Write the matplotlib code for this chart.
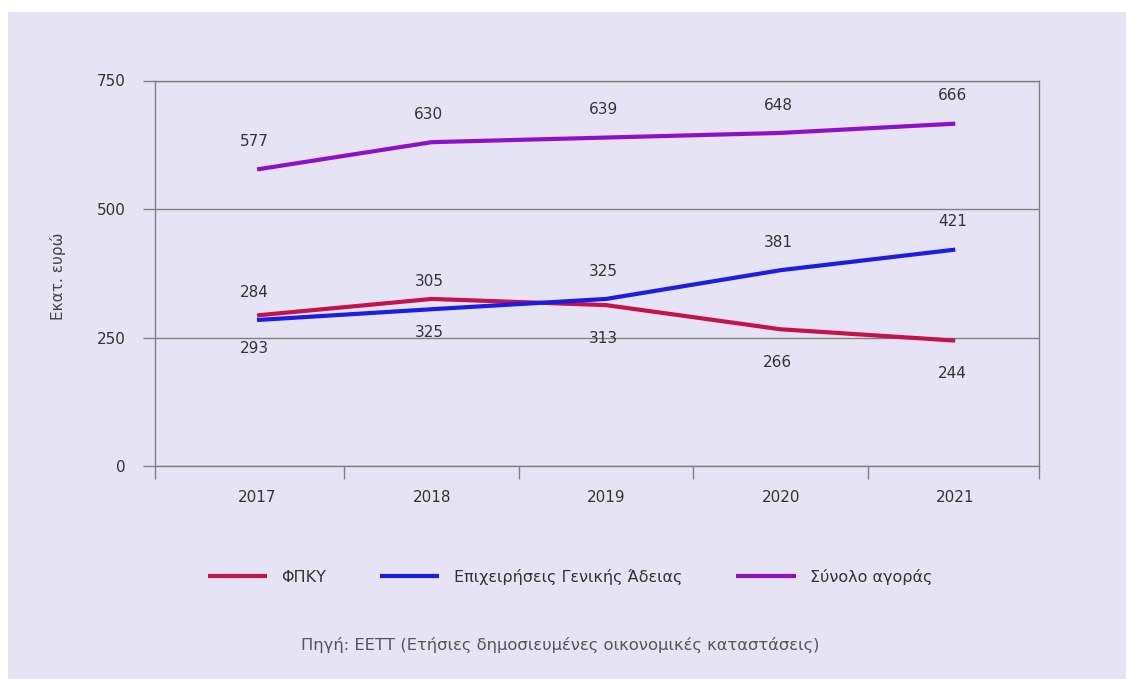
import matplotlib.pyplot as plt
from matplotlib.patches import Rectangle

# Market revenue, million euro
years = ["2017", "2018", "2019", "2020", "2021"]
fpky = [293, 325, 313, 266, 244]
general_licence = [284, 305, 325, 381, 421]
market_total = [577, 630, 639, 648, 666]

series_names = ["ΦΠΚΥ", "Επιχειρήσεις Γενικής Άδειας", "Σύνολο αγοράς"]
series_colors = ["#C4124A", "#1C1CE2", "#8E10CC"]

BG = "#E6E4F4"
GRID = "#808080"
TEXT = "#333333"

plt.rcParams["font.family"] = ["DejaVu Sans"]

fig = plt.figure(figsize=(11.26, 6.79), dpi=100, facecolor="white")
# lavender panel behind everything
fig.patches.append(Rectangle((8 / 1126, 0), 1, (679 - 12) / 679,
                             transform=fig.transFigure, facecolor=BG,
                             edgecolor="none", zorder=-10))

ax = fig.add_axes([155 / 1126, 1 - 466 / 679, (1039 - 155) / 1126, (466 - 80.5) / 679])
ax.set_facecolor(BG)

x = list(range(len(years)))
lines = []
for vals, color in zip([fpky, general_licence, market_total], series_colors):
    ln, = ax.plot(x, vals, color=color, lw=3, solid_capstyle="butt", zorder=3)
    lines.append(ln)

# value labels: blue and purple above the point, red below
for i in x:
    ax.annotate(str(market_total[i]), (i, market_total[i]), xytext=(-2, 20),
                textcoords="offset points", ha="center", va="center",
                fontsize=11, color=TEXT)
    ax.annotate(str(general_licence[i]), (i, general_licence[i]), xytext=(-2, 20),
                textcoords="offset points", ha="center", va="center",
                fontsize=11, color=TEXT)
    ax.annotate(str(fpky[i]), (i, fpky[i]), xytext=(-2, -24),
                textcoords="offset points", ha="center", va="center",
                fontsize=11, color=TEXT)

x0, x1 = -0.585, 4.48
ax.set_xlim(x0, x1)
ax.set_ylim(0, 750)

ax.set_yticks([0, 250, 500, 750])
ax.yaxis.grid(True, color=GRID, lw=1)
ax.set_axisbelow(True)
ax.tick_params(axis="y", length=9, width=1, color=GRID, pad=12,
               labelsize=11, labelcolor=TEXT)

ax.set_xticks(x)
ax.set_xticklabels(years)
ax.set_xticks([x0, 0.5, 1.5, 2.5, 3.5, x1], minor=True)
ax.tick_params(axis="x", which="major", length=0, pad=17,
               labelsize=11, labelcolor=TEXT)
ax.tick_params(axis="x", which="minor", length=9, width=1, color=GRID)

for side in ["left", "bottom", "right", "top"]:
    ax.spines[side].set_color(GRID)
    ax.spines[side].set_linewidth(1)

fig.text(58 / 1126, 1 - 276 / 679, "Εκατ. ευρώ", rotation=90,
         ha="center", va="center", fontsize=11, color="#444444")

fig.legend(lines, series_names, loc="center", bbox_to_anchor=(570 / 1126, 1 - 577 / 679),
           ncol=3, frameon=False, fontsize=11.5, handlelength=3.7,
           handletextpad=0.9, columnspacing=3.4, labelcolor=TEXT)

fig.text(560 / 1126, 1 - 645 / 679,
         "Πηγή: ΕΕΤΤ (Ετήσιες δημοσιευμένες οικονομικές καταστάσεις)",
         ha="center", va="center", fontsize=11.8, color="#555555")

fig.savefig("out.png", dpi=100, facecolor=fig.get_facecolor())
